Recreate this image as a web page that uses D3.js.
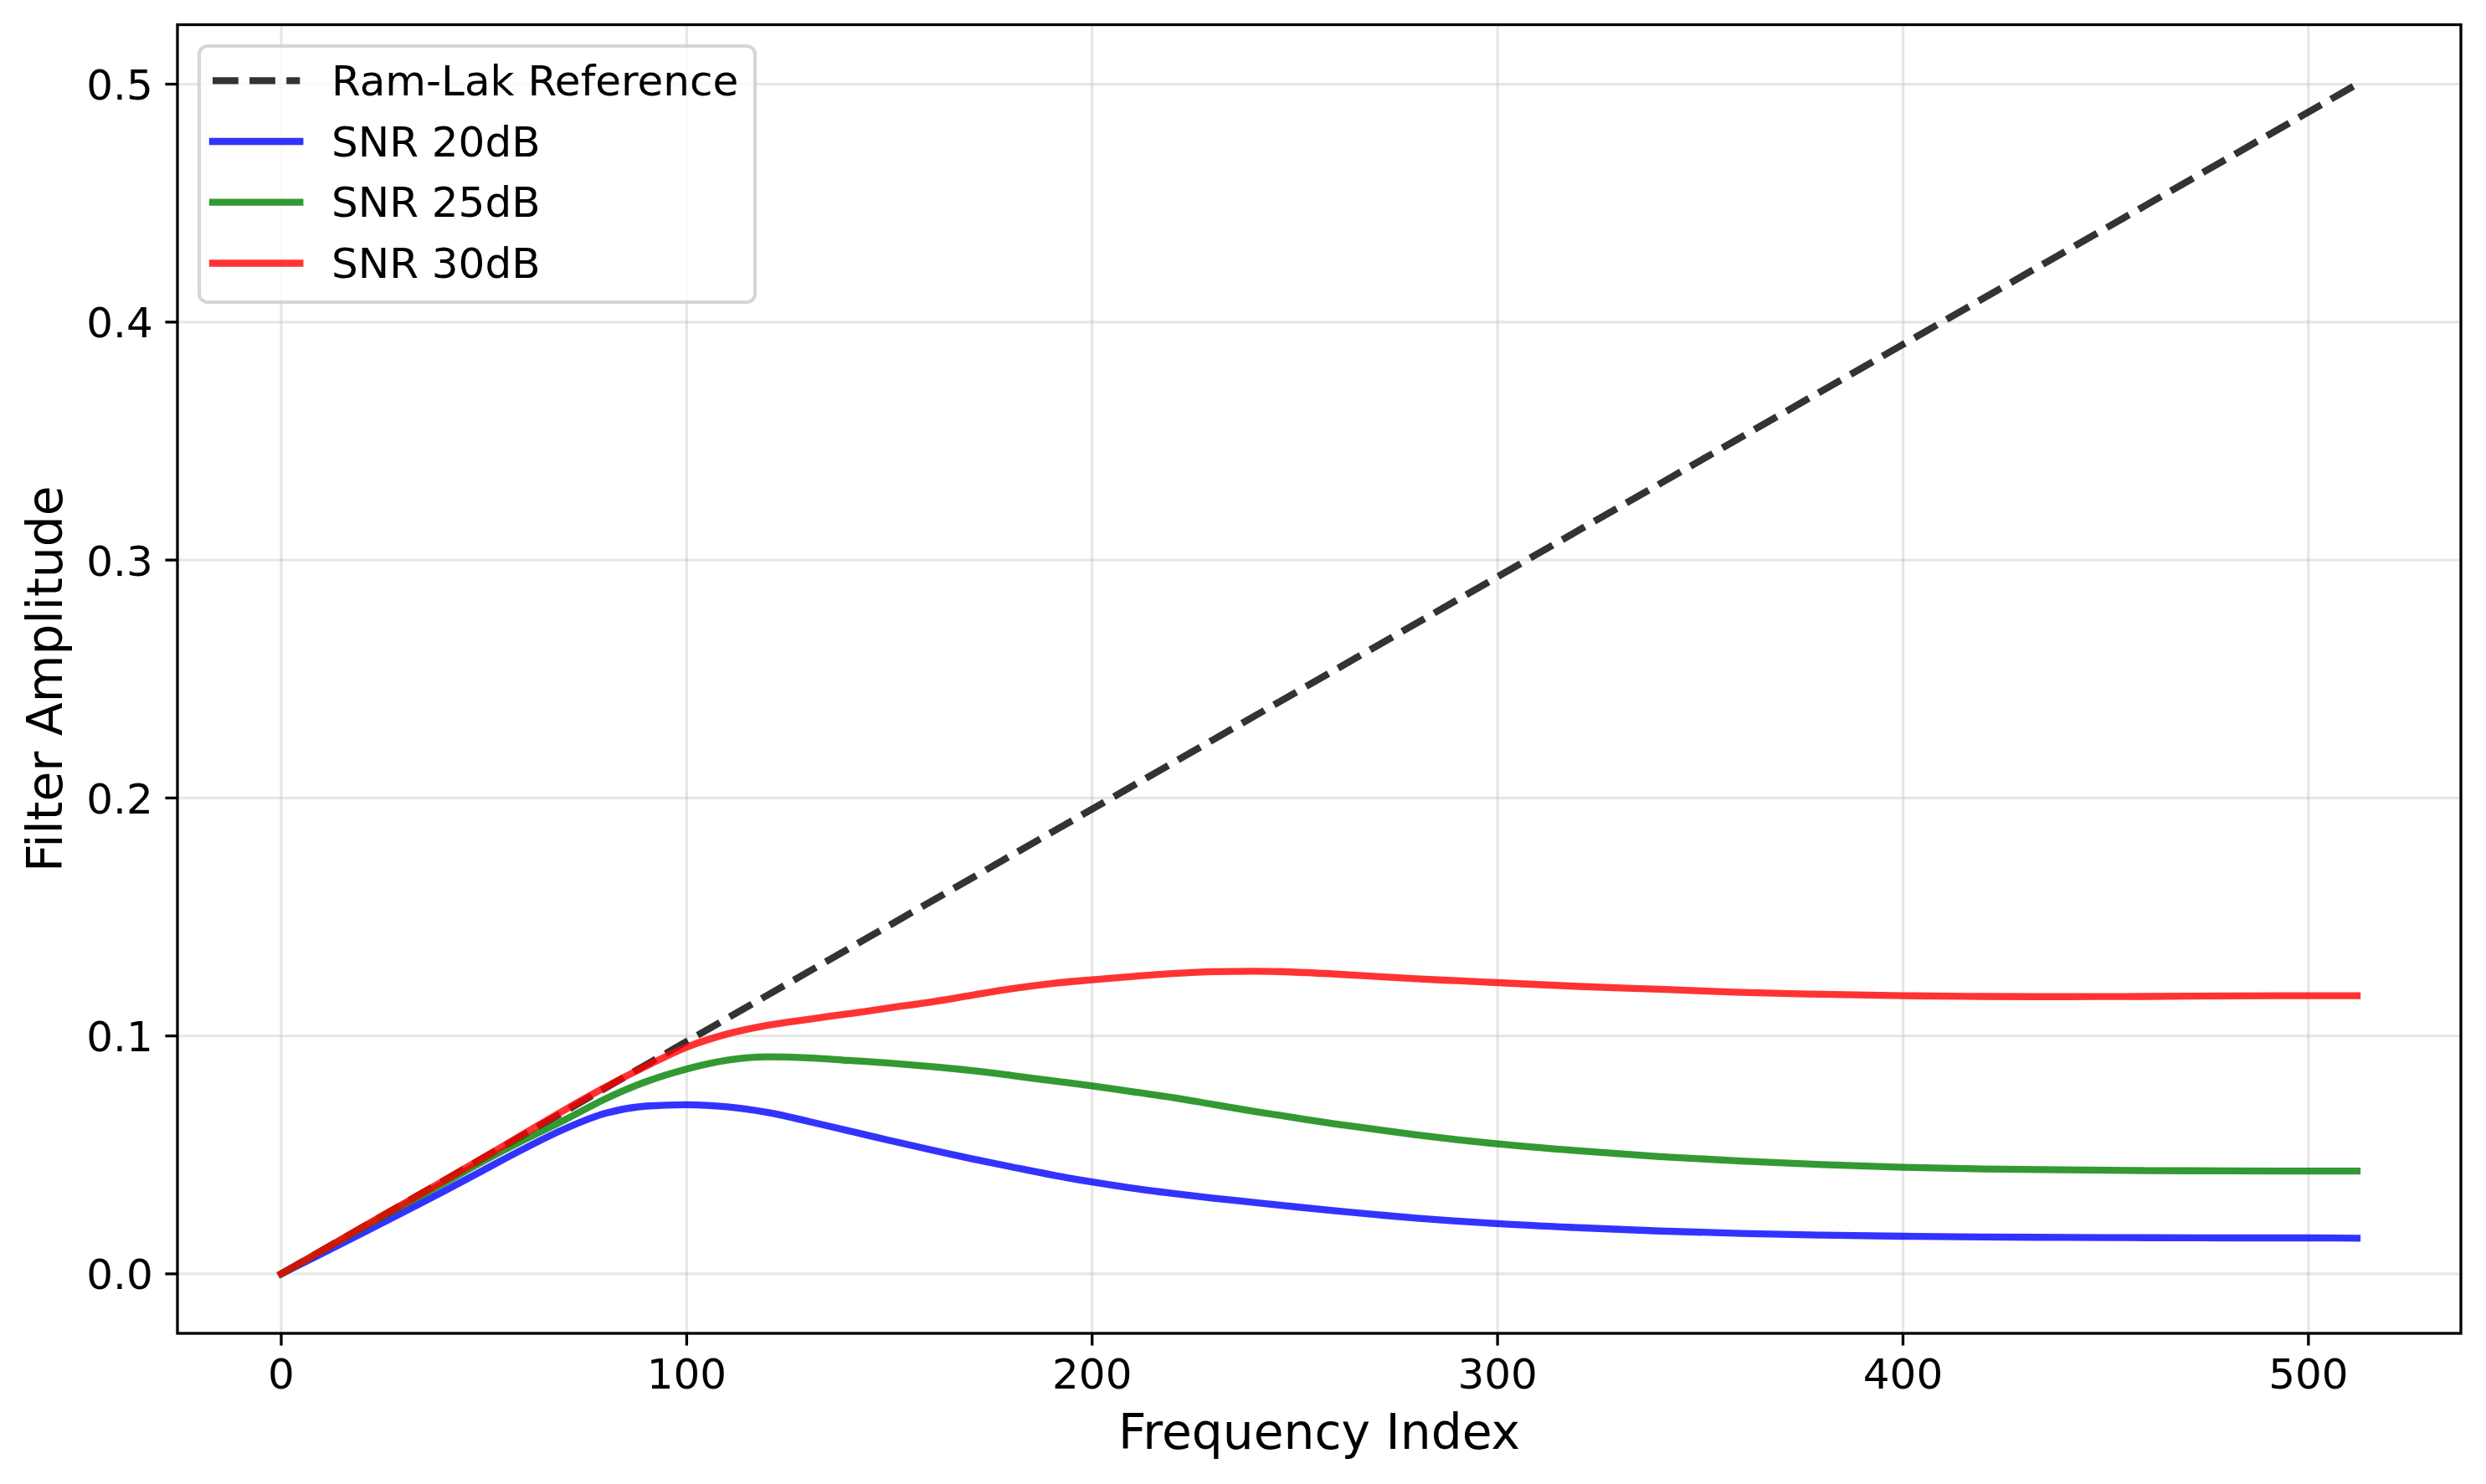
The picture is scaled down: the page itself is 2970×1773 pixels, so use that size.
<!DOCTYPE html>
<html>
<head>
<meta charset="utf-8">
<script src="https://cdn.jsdelivr.net/npm/d3@7"></script>
<style>
  html, body { margin: 0; padding: 0; background: #fff; }
  svg { display: block; font-family: "DejaVu Sans", sans-serif; }
</style>
</head>
<body>
<svg id="chart" width="2970" height="1773"></svg>
<script>
// ---------------- data ----------------
const freqIndex = [0,10,20,30,40,50,60,70,80,90,100,110,120,130,140,150,160,170,180,190,200,
  210,220,230,240,250,260,270,280,290,300,320,340,360,380,400,420,440,460,480,500,512];

const snr20 = [0,0.0085,0.0171,0.0258,0.0346,0.0437,0.0527,0.0610,0.0675,0.0705,0.0711,0.0702,0.0678,
  0.0641,0.0601,0.0561,0.0522,0.0485,0.0450,0.0416,0.0386,0.0360,0.0338,0.0318,0.0300,0.0282,0.0265,
  0.0249,0.0234,0.0222,0.0211,0.0194,0.0180,0.0170,0.0163,0.0158,0.0155,0.0153,0.0152,0.0151,0.0151,0.0150];

const snr25 = [0,0.0097,0.0193,0.0288,0.0380,0.0475,0.0564,0.0648,0.0736,0.0808,0.0861,0.0898,0.0912,
  0.0908,0.0897,0.0886,0.0872,0.0855,0.0834,0.0812,0.0790,0.0765,0.0741,0.0712,0.0683,0.0656,0.0630,
  0.0607,0.0584,0.0564,0.0546,0.0517,0.0493,0.0474,0.0459,0.0448,0.0441,0.0437,0.0434,0.0433,0.0432,0.0432];

const snr30 = [0,0.0098,0.0196,0.0293,0.0391,0.0490,0.0590,0.0690,0.0785,0.0873,0.0953,0.1008,0.1045,
  0.1070,0.1093,0.1118,0.1142,0.1170,0.1198,0.1220,0.1236,0.1250,0.1262,0.1270,0.1272,0.1268,0.1260,
  0.1250,0.1240,0.1232,0.1224,0.1208,0.1196,0.1183,0.1175,0.1169,0.1166,0.1165,0.1166,0.1168,0.1169,0.1169];

const ramLakX = [0, 512];
const ramLakY = [0, 0.5];

const seriesNames = ["Ram-Lak Reference", "SNR 20dB", "SNR 25dB", "SNR 30dB"];
const seriesColors = ["#000000", "blue", "green", "red"];

const xTicks = [0, 100, 200, 300, 400, 500];
const yTicks = [0.0, 0.1, 0.2, 0.3, 0.4, 0.5];
const xLabel = "Frequency Index";
const yLabel = "Filter Amplitude";

// ---------------- layout ----------------
(function draw() {
const pL = 212, pR = 2940, pT = 29.5, pB = 1593;
const lw = 8.33;            // 2pt at 300 dpi
const fs = 50;              // 12pt
const fsLabel = 58.3;       // 14pt

const svg = d3.select("#chart");

const x = d3.scaleLinear().domain([-25.6, 537.6]).range([pL, pR]);
const y = d3.scaleLinear().domain([-0.025, 0.525]).range([pB, pT]);

// grid
const grid = svg.append("g");
grid.selectAll("line.gx").data(xTicks).enter().append("line")
  .attr("x1", d => x(d)).attr("x2", d => x(d)).attr("y1", pT).attr("y2", pB)
  .attr("stroke", "#b0b0b0").attr("stroke-opacity", 0.3).attr("stroke-width", 3.33);
grid.selectAll("line.gy").data(yTicks).enter().append("line")
  .attr("y1", d => y(d)).attr("y2", d => y(d)).attr("x1", pL).attr("x2", pR)
  .attr("stroke", "#b0b0b0").attr("stroke-opacity", 0.3).attr("stroke-width", 3.33);

// clip
svg.append("clipPath").attr("id", "clip").append("rect")
  .attr("x", pL).attr("y", pT).attr("width", pR - pL).attr("height", pB - pT);

const plot = svg.append("g").attr("clip-path", "url(#clip)");

// Ram-Lak reference
const ramPts = ramLakX.map((v, i) => [v, ramLakY[i]]);
plot.append("path")
  .attr("d", d3.line().x(d => x(d[0])).y(d => y(d[1]))(ramPts))
  .attr("fill", "none").attr("stroke", seriesColors[0]).attr("stroke-opacity", 0.8)
  .attr("stroke-width", lw).attr("stroke-dasharray", "30.8,13.3").attr("stroke-linecap", "butt");

const line = d3.line().curve(d3.curveMonotoneX).x(d => x(d[0])).y(d => y(d[1]));
[snr20, snr25, snr30].forEach((s, k) => {
  const pts = freqIndex.map((f, i) => [f, s[i]]);
  plot.append("path")
    .attr("d", line(pts))
    .attr("fill", "none").attr("stroke", seriesColors[k + 1]).attr("stroke-opacity", 0.8)
    .attr("stroke-width", lw).attr("stroke-linecap", "square").attr("stroke-linejoin", "round");
});

// spines
svg.append("rect").attr("x", pL).attr("y", pT).attr("width", pR - pL).attr("height", pB - pT)
  .attr("fill", "none").attr("stroke", "#000").attr("stroke-width", 3.33);

// x ticks
const xAxis = svg.append("g");
xTicks.forEach(t => {
  xAxis.append("line").attr("x1", x(t)).attr("x2", x(t)).attr("y1", pB).attr("y2", pB + 14.6)
    .attr("stroke", "#000").attr("stroke-width", 3.33);
  xAxis.append("text").attr("x", x(t)).attr("y", 1659.3).attr("text-anchor", "middle")
    .attr("font-size", fs).attr("fill", "#000").text(d3.format("d")(t));
});
// y ticks
const yAxis = svg.append("g");
yTicks.forEach(t => {
  yAxis.append("line").attr("x1", pL - 14.6).attr("x2", pL).attr("y1", y(t)).attr("y2", y(t))
    .attr("stroke", "#000").attr("stroke-width", 3.33);
  yAxis.append("text").attr("x", pL - 29.2).attr("y", y(t) + 18.5).attr("text-anchor", "end")
    .attr("font-size", fs).attr("fill", "#000").text(d3.format(".1f")(t));
});

// axis labels
svg.append("text").attr("x", (pL + pR) / 2).attr("y", 1730.5).attr("text-anchor", "middle")
  .attr("font-size", fsLabel).attr("fill", "#000").text(xLabel);
svg.append("text").attr("transform", `translate(74,${(pT + pB) / 2}) rotate(-90)`)
  .attr("text-anchor", "middle").attr("font-size", fsLabel).attr("fill", "#000").text(yLabel);

// legend
const lg = svg.append("g");
lg.append("rect").attr("x", 238).attr("y", 55).attr("width", 664).attr("height", 306)
  .attr("rx", 10).attr("ry", 10)
  .attr("fill", "#fff").attr("fill-opacity", 0.8)
  .attr("stroke", "#cccccc").attr("stroke-opacity", 0.8).attr("stroke-width", 4.17);
const rowY = [96.3, 169, 241.7, 314.5];
seriesNames.forEach((name, i) => {
  const ln = lg.append("line").attr("x1", 254).attr("x2", 358.3).attr("y1", rowY[i]).attr("y2", rowY[i])
    .attr("stroke", seriesColors[i]).attr("stroke-opacity", 0.8).attr("stroke-width", lw);
  if (i === 0) ln.attr("stroke-dasharray", "30.8,13.3");
  else ln.attr("stroke-linecap", "square");
  lg.append("text").attr("x", 396).attr("y", rowY[i] + 17.5).attr("font-size", fs).attr("fill", "#000").text(name);
});
})();
</script>
</body>
</html>
